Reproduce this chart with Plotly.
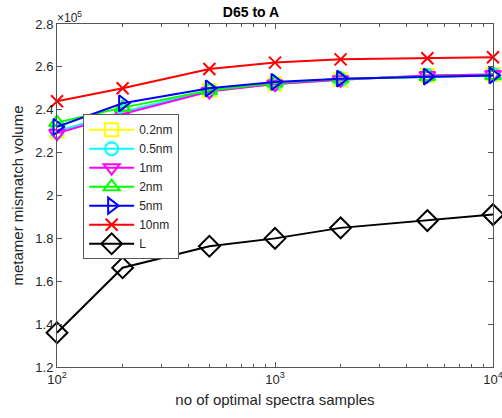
import plotly.graph_objects as go

samples = [100, 200, 500, 1000, 2000, 5000, 10000]
series_names = ["0.2nm", "0.5nm", "1nm", "2nm", "5nm", "10nm", "L"]
v_02nm = [230000, 239000, 249000, 252000, 254000, 256000, 256500]
v_05nm = [230000, 239000, 249000, 252000, 254000, 256000, 256500]
v_1nm = [229000, 238000, 248500, 252000, 254000, 256000, 256500]
v_2nm = [234000, 241000, 249000, 252500, 254500, 255500, 256000]
v_5nm = [232000, 243000, 250000, 253000, 254500, 255500, 256000]
v_10nm = [244000, 250000, 259000, 262000, 263500, 264000, 264500]
v_L = [136000, 166300, 176300, 180000, 184900, 188300, 191100]

y_tickvals = [120000, 140000, 160000, 180000, 200000, 220000, 240000, 260000, 280000]
y_ticktext = ["1.2", "1.4", "1.6", "1.8", "2", "2.2", "2.4", "2.6", "2.8"]
x_tickvals = [100, 1000, 10000]
x_ticktext = ["10<sup>2</sup>", "10<sup>3</sup>", "10<sup>4</sup>"]
x_minor_tickvals = [200, 300, 400, 500, 600, 700, 800, 900,
                    2000, 3000, 4000, 5000, 6000, 7000, 8000, 9000]

colors = ["#FFFF00", "#00FFFF", "#FF00FF", "#00FF00", "#0000FF", "#FF0000", "#000000"]
symbols = ["square-open", "circle-open", "triangle-down-open", "triangle-up-open",
           "triangle-right-open", "x-thin-open", "diamond-open"]
sizes = [13, 13, 14, 14, 14, 12, 16]
values = [v_02nm, v_05nm, v_1nm, v_2nm, v_5nm, v_10nm, v_L]

fig = go.Figure()
for name, vals, c, s, sz in zip(series_names, values, colors, symbols, sizes):
    fig.add_trace(go.Scatter(
        x=samples, y=vals, name=name, mode="lines+markers",
        line=dict(color=c, width=2),
        marker=dict(symbol=s, size=sz, color=c, line=dict(color=c, width=2)),
        cliponaxis=False,
    ))

axis_col = "#555555"
font_col = "#262626"
fig.update_layout(
    width=502, height=418,
    margin=dict(l=57, r=9, t=24, b=51),
    paper_bgcolor="white", plot_bgcolor="white",
    font=dict(family="Liberation Sans, Arial, sans-serif", size=13, color=font_col),
    title=dict(text="<b>D65 to A</b>", x=0.5, xanchor="center", y=0.972, yanchor="middle",
               font=dict(size=14, color="black")),
    showlegend=True,
    legend=dict(x=0.06, y=0.737, xanchor="left", yanchor="top",
                bgcolor="white", bordercolor=axis_col, borderwidth=1,
                font=dict(size=12, color=font_col), tracegroupgap=0, itemwidth=45),
    xaxis=dict(type="log", range=[2, 4], tickmode="array",
               tickvals=x_tickvals, ticktext=x_ticktext,
               automargin=False, ticklabeloverflow="allow",
               showline=True, linecolor=axis_col, linewidth=1, mirror="ticks",
               ticks="inside", ticklen=5, tickcolor=axis_col, showgrid=False, zeroline=False,
               minor=dict(tickmode="array", tickvals=x_minor_tickvals, ticks="inside",
                          ticklen=3, tickcolor=axis_col, showgrid=False),
               title=dict(text="no of optimal spectra samples", font=dict(size=15, color=font_col), standoff=8),
               tickfont=dict(size=13, color=font_col)),
    yaxis=dict(range=[120000, 280000], tickvals=y_tickvals, ticktext=y_ticktext,
               automargin=False, ticklabeloverflow="allow",
               showline=True, linecolor=axis_col, linewidth=1, mirror="ticks",
               ticks="inside", ticklen=5, tickcolor=axis_col, showgrid=False, zeroline=False,
               title=dict(text="metamer mismatch volume", font=dict(size=15, color=font_col), standoff=8),
               tickfont=dict(size=13, color=font_col)),
    annotations=[dict(text="\u00d710<sup>5</sup>", xref="paper", yref="paper", x=-0.005, y=1.0,
                      xanchor="left", yanchor="bottom", showarrow=False,
                      font=dict(size=12, color=font_col), yshift=-3)],
)

fig.write_html("out.html", config={"displayModeBar": False},
               post_script="document.body.style.margin='0';")
